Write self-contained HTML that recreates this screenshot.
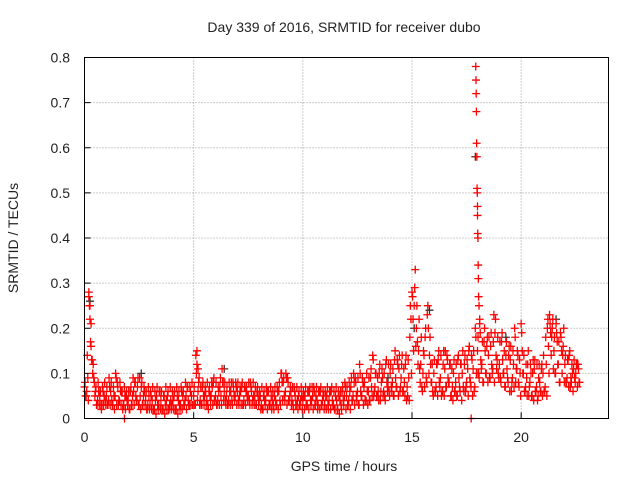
<!DOCTYPE html>
<html><head><meta charset="utf-8"><style>
body{margin:0;background:#fff;width:640px;height:480px;overflow:hidden}
text{font-family:"Liberation Sans",sans-serif;font-size:14px;fill:#222}
</style></head><body>
<svg id="chart" width="640" height="480" xmlns="http://www.w3.org/2000/svg">
<text x="344" y="32" text-anchor="middle">Day 339 of 2016, SRMTID for receiver dubo</text>
<text transform="translate(18,238) rotate(-90)" text-anchor="middle">SRMTID / TECUs</text>
<text x="344" y="471" text-anchor="middle">GPS time / hours</text>
<g id="grid"></g>
<g id="ticks"></g>
<g id="marks"></g>
<rect x="84.5" y="57.5" width="524" height="361" fill="none" stroke="#000" stroke-width="1"/>
</svg>
<script>
const xTicks=[0,5,10,15,20];
const yTicks=[0,0.1,0.2,0.3,0.4,0.5,0.6,0.7,0.8];
const yTickLabels=["0","0.1","0.2","0.3","0.4","0.5","0.6","0.7","0.8"];
const step=0.1;
const seriesA=[.07,.06,.28,.16,.12,.06,.04,.05,.03,.05,
.05,.04,.06,.03,.05,.08,.04,.06,.03,.05,
.04,.06,.05,.08,.04,.03,.07,.05,.04,.03,
.03,.04,.02,.05,.03,.04,.02,.03,.05,.03,
.03,.05,.02,.04,.03,.05,.04,.07,.03,.05,
.05,.14,.06,.04,.07,.05,.04,.06,.05,.08,
.05,.04,.07,.11,.06,.05,.04,.06,.08,.05,
.06,.05,.07,.04,.06,.05,.08,.04,.05,.06,
.04,.03,.05,.04,.06,.03,.04,.05,.03,.06,
.10,.08,.06,.09,.05,.04,.07,.03,.05,.04,
.04,.05,.03,.06,.04,.07,.05,.03,.06,.04,
.03,.05,.04,.06,.03,.05,.02,.04,.06,.05,
.05,.04,.07,.05,.09,.06,.12,.05,.07,.04,
.06,.09,.14,.07,.05,.10,.08,.06,.12,.07,
.10,.08,.13,.07,.11,.09,.06,.12,.05,.18,
.28,.25,.20,.15,.12,.10,.18,.23,.14,.08,
.10,.07,.13,.09,.06,.11,.14,.08,.05,.10,
.08,.13,.06,.10,.12,.08,.15,.07,.11,.20,
.15,.21,.12,.17,.10,.14,.16,.11,.19,.13,
.12,.17,.10,.14,.08,.13,.09,.20,.11,.07,
.21,.10,.07,.12,.08,.05,.11,.07,.09,.06,
.10,.07,.20,.23,.18,.15,.21,.12,.19,.14,
.12,.09,.14,.08,.11,.10,.12];
const seriesB=[.05,.09,.22,.13,.08,.03,.06,.03,.06,.04,
.03,.07,.04,.05,.09,.03,.06,.02,.05,.04,
.02,.03,.06,.05,.09,.05,.03,.06,.02,.05,
.05,.02,.04,.03,.06,.02,.05,.04,.02,.04,
.04,.02,.05,.03,.06,.03,.05,.04,.06,.03,
.03,.12,.09,.03,.05,.06,.03,.05,.07,.04,
.03,.06,.05,.08,.04,.03,.06,.04,.05,.07,
.04,.06,.03,.07,.05,.04,.06,.05,.03,.05,
.05,.02,.04,.06,.03,.05,.03,.04,.06,.04,
.08,.05,.09,.04,.06,.03,.05,.04,.03,.05,
.05,.03,.06,.04,.05,.03,.04,.06,.03,.05,
.05,.03,.06,.04,.02,.04,.05,.03,.04,.07,
.03,.06,.04,.08,.05,.03,.06,.08,.04,.06,
.04,.07,.05,.10,.06,.04,.09,.05,.08,.06,
.07,.05,.09,.12,.06,.14,.08,.04,.09,.22,
.22,.33,.17,.11,.07,.14,.09,.20,.12,.06,
.06,.12,.08,.05,.15,.07,.09,.12,.07,.06,
.05,.09,.12,.07,.06,.11,.09,.13,.06,.10,
.10,.13,.08,.15,.18,.09,.12,.23,.14,.10,
.09,.13,.07,.11,.16,.06,.12,.08,.14,.10,
.15,.06,.09,.05,.10,.13,.06,.04,.08,.12,
.06,.12,.16,.19,.22,.10,.17,.08,.15,.20,
.08,.13,.07,.10,.09,.12,.08];
const seriesC=[.08,.14,.25,.13,.09,.07,.08,.06,.07,.08,
.07,.09,.08,.07,.10,.07,.08,.06,.07,.06,
.06,.07,.09,.08,.07,.09,.08,.07,.06,.07,
.06,.07,.06,.07,.06,.06,.05,.07,.06,.07,
.06,.06,.07,.06,.07,.06,.08,.07,.07,.08,
.07,.10,.08,.07,.08,.07,.08,.07,.08,.09,
.08,.07,.09,.08,.08,.07,.08,.08,.07,.08,
.08,.07,.08,.07,.07,.08,.07,.08,.07,.07,
.06,.07,.06,.07,.06,.07,.06,.07,.07,.08,
.10,.09,.10,.08,.07,.07,.06,.07,.06,.07,
.06,.07,.06,.07,.07,.06,.07,.06,.07,.06,
.06,.07,.06,.07,.06,.07,.06,.06,.07,.08,
.07,.08,.09,.10,.08,.09,.10,.09,.08,.10,
.09,.11,.13,.10,.09,.12,.11,.10,.13,.12,
.12,.11,.15,.13,.14,.12,.11,.14,.13,.25,
.27,.29,.25,.22,.18,.15,.20,.25,.18,.12,
.13,.12,.15,.14,.12,.15,.13,.12,.11,.13,
.12,.14,.12,.15,.14,.13,.16,.14,.15,.18,
.18,.19,.17,.20,.16,.18,.19,.17,.22,.18,
.17,.19,.15,.17,.14,.16,.15,.18,.15,.13,
.19,.14,.12,.15,.12,.10,.13,.12,.12,.11,
.14,.18,.22,.21,.20,.18,.19,.17,.18,.16,
.14,.13,.15,.12,.13,.12,.11];
const seriesD=[.05,.04,.17,.10,.05,.03,.03,.02,.03,.03,
.03,.03,.03,.02,.03,.04,.03,.03,.02,.03,
.02,.03,.03,.04,.03,.02,.03,.03,.02,.02,
.02,.02,.01,.02,.02,.02,.01,.02,.02,.02,
.02,.02,.01,.02,.02,.03,.02,.03,.03,.03,
.03,.04,.03,.03,.03,.03,.02,.03,.03,.04,
.03,.03,.03,.04,.03,.03,.03,.03,.04,.03,
.03,.03,.03,.03,.04,.03,.03,.03,.03,.03,
.02,.02,.03,.02,.03,.02,.02,.03,.02,.03,
.04,.04,.03,.04,.03,.02,.03,.02,.03,.02,
.02,.03,.02,.03,.02,.03,.02,.02,.03,.02,
.02,.02,.02,.03,.02,.02,.01,.02,.03,.02,
.03,.02,.04,.03,.04,.03,.05,.03,.04,.03,
.04,.05,.06,.05,.04,.06,.05,.04,.06,.05,
.06,.05,.07,.05,.07,.06,.05,.07,.04,.10,
.15,.16,.12,.08,.06,.07,.08,.10,.08,.05,
.06,.05,.07,.06,.05,.07,.08,.05,.04,.06,
.05,.07,.04,.06,.07,.05,.08,.05,.07,.10,
.09,.11,.08,.10,.08,.09,.10,.08,.11,.09,
.08,.10,.07,.09,.06,.08,.07,.11,.08,.05,
.10,.06,.05,.07,.05,.04,.06,.05,.06,.05,
.06,.05,.10,.14,.11,.10,.12,.08,.10,.08,
.08,.07,.09,.06,.08,.07,.08];
const spikeT=[0.2,0.25,0.3,1.83,17.71,17.92,17.93,17.94,17.95,17.96,17.97,17.98,17.99,18.0,18.0,18.01,18.02,18.03,18.04,18.05,18.07,18.1,5.15,5.2];
const spikeV=[0.27,0.25,0.21,0,0,0.78,0.75,0.72,0.68,0.61,0.58,0.51,0.50,0.47,0.45,0.41,0.40,0.34,0.31,0.27,0.25,0.22,0.15,0.11];
const darkT=[0.25,2.6,6.4,13.9,15.1,15.8,17.9,21.6,19.3];
const darkV=[0.26,0.10,0.11,0.09,0.20,0.24,0.58,0.22,0.18];

const X0=84.5,X1=608.5,Y0=418.5,Y1=57.5;
const sx=t=>X0+t/24*(X1-X0);
const sy=v=>Y0-v/0.8*(Y0-Y1);
const NS="http://www.w3.org/2000/svg";
const grid=document.getElementById('grid'),ticks=document.getElementById('ticks'),marks=document.getElementById('marks');
function mk(tag,attrs,parent){const e=document.createElementNS(NS,tag);for(const k in attrs)e.setAttribute(k,attrs[k]);parent.appendChild(e);return e;}
xTicks.forEach(t=>{
  const x=sx(t);
  if(t>0){const g=mk('line',{x1:x,x2:x,y1:Y0,y2:Y1,stroke:'#999','stroke-dasharray':'1,2'},grid);
  
  }
  const tl=mk('line',{x1:x,x2:x,y1:Y0,y2:Y0-6,stroke:'#000'},ticks);
  
  
  const tx=mk('text',{x:x,y:442,'text-anchor':'middle'},ticks);tx.textContent=t;
  
  
});
yTicks.forEach((v,i)=>{
  const y=sy(v);
  if(v>0&&v<0.8){const g=mk('line',{x1:X0,x2:X1,y1:y,y2:y,stroke:'#999','stroke-dasharray':'1,2'},grid);
  
  }
  const tl=mk('line',{x1:X0,x2:X0+6,y1:y,y2:y,stroke:'#000'},ticks);
  
  
  const tx=mk('text',{x:70,y:y+5,'text-anchor':'end'},ticks);tx.textContent=yTickLabels[i];
  
  
});
function plus(t,v,color){
  const x=sx(t),y=sy(v);
  const p=mk('path',{d:`M${x-4},${y}H${x+4}M${x},${y-4}V${y+4}`,stroke:color,'stroke-width':1.3,fill:'none'},marks);
  
  
}
darkT.forEach((t,i)=>plus(t,darkV[i],'#333'));
seriesA.forEach((v,i)=>plus(i*step,v,'#ff0000'));
seriesB.forEach((v,i)=>plus(i*step+0.05,v,'#ff0000'));
seriesC.forEach((v,i)=>plus(i*step+0.025,v,'#ff0000'));
seriesD.forEach((v,i)=>plus(i*step+0.075,v,'#ff0000'));
spikeT.forEach((t,i)=>plus(t,spikeV[i],'#ff0000'));
</script>
</body></html>
